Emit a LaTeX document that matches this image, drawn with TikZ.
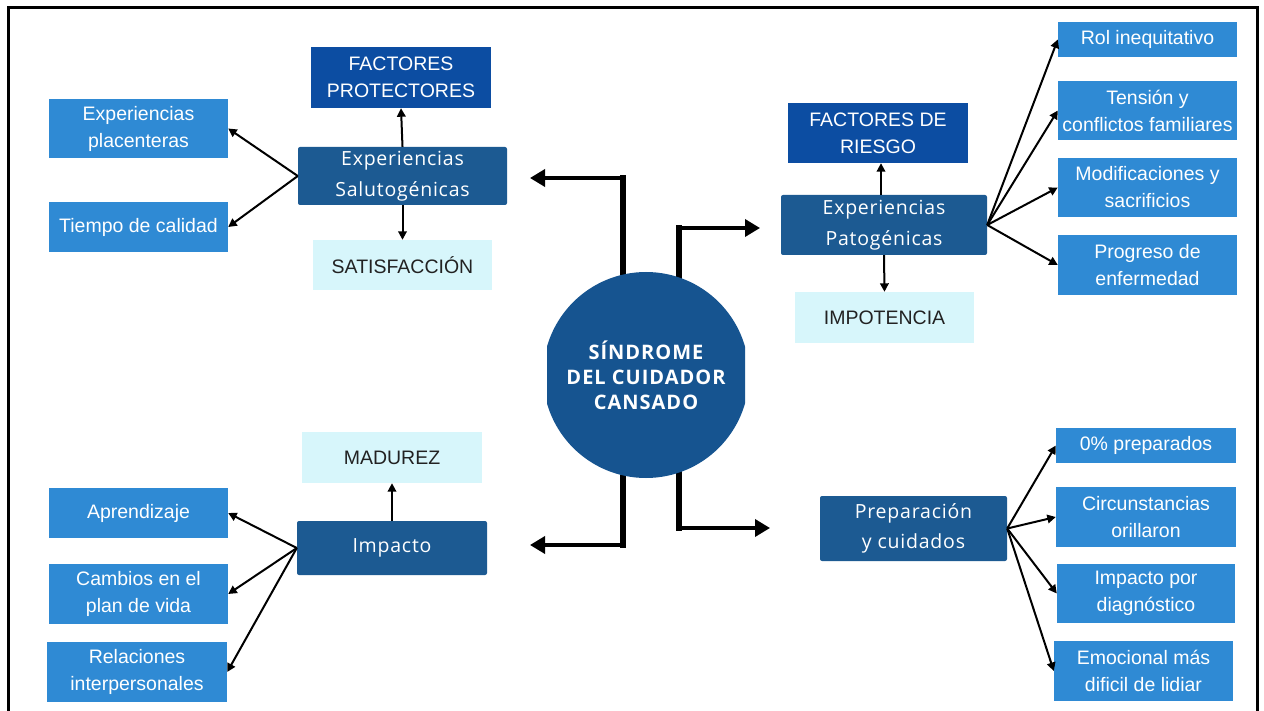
\documentclass[tikz,border=0pt]{standalone}
\usepackage{fontspec}
\setmainfont{Liberation Sans}
\newfontfamily\midfont[LetterSpace=4]{Open Sans}
\newfontfamily\hubfont[LetterSpace=5]{Open Sans}
\usetikzlibrary{arrows.meta,backgrounds}

\definecolor{factblue}{HTML}{0C4DA2}
\definecolor{midblue}{HTML}{1C5A92}
\definecolor{hubblue}{HTML}{165490}
\definecolor{leafblue}{HTML}{2F8AD4}
\definecolor{palecyan}{HTML}{D7F6FB}
\definecolor{darktext}{HTML}{222222}

\begin{document}
\begin{tikzpicture}[x=1pt,y=-1pt,
  box/.style={rectangle, inner sep=0pt, align=center, text=white,
              font=\fontsize{19.5}{27}\selectfont},
  leaf/.style={box, fill=leafblue},
  factor/.style={box, fill=factblue},
  mid/.style={box, fill=midblue, rounded corners=2pt,
              font=\midfont\fontsize{19.5}{30.5}\selectfont},
  result/.style={box, fill=palecyan, text=darktext},
  fan/.style={-{Triangle[length=8.5pt,width=8.5pt]}, line width=2pt},
  hubstem/.style={line width=6pt, line cap=rect},
  hubarrow/.style={-{Triangle[length=15pt,width=17pt]}, line width=3.5pt}]

\useasboundingbox (0,0) rectangle (1264,711);

% central hub
\node[circle, minimum size=206pt, inner sep=0pt, align=center, text=white,
      font=\hubfont\bfseries\fontsize{20}{25}\selectfont] (hub) at (646,375)
      {SÍNDROME\\DEL CUIDADOR\\CANSADO};

% protective side
\node[factor, minimum width=180, minimum height=61] (fp) at (401,77.5) {FACTORES\\PROTECTORES};
\node[mid, minimum width=209, minimum height=58] (salu) at (402.5,176) {Experiencias\\Salutogénicas};
\node[result, minimum width=179, minimum height=50] (sat) at (402.5,265) {SATISFACCIÓN};
\node[leaf, minimum width=179, minimum height=59] (ep) at (138.5,128.5) {Experiencias\\placenteras};
\node[leaf, minimum width=179, minimum height=50] (tc) at (138.5,227) {Tiempo de calidad};

% impact side
\node[result, minimum width=180, minimum height=51] (mad) at (392,457.5) {MADUREZ};
\node[mid, minimum width=190, minimum height=54] (imp) at (392,548) {Impacto};
\node[leaf, minimum width=179, minimum height=50] (apr) at (138.5,513) {Aprendizaje};
\node[leaf, minimum width=179, minimum height=60] (cam) at (138.5,594) {Cambios en el\\plan de vida};
\node[leaf, minimum width=180, minimum height=60] (rel) at (137,672) {Relaciones\\interpersonales};

% risk side
\node[factor, minimum width=180, minimum height=60] (fr) at (878,133) {FACTORES DE\\RIESGO};
\node[mid, minimum width=206, minimum height=60] (pat) at (884,225) {Experiencias\\Patogénicas};
\node[result, minimum width=179, minimum height=51] (ipo) at (884.5,317.5) {IMPOTENCIA};
\node[leaf, minimum width=179, minimum height=35] (rol) at (1147.5,39.5) {Rol inequitativo};
\node[leaf, minimum width=179, minimum height=59] (ten) at (1147.5,110.5) {Tensión y\\conflictos familiares};
\node[leaf, minimum width=179, minimum height=59] (mod) at (1147.5,187.5) {Modificaciones y\\sacrificios};
\node[leaf, minimum width=179, minimum height=60] (pro) at (1147.5,265) {Progreso de\\enfermedad};

% preparation side
\node[mid, minimum width=187, minimum height=65] (prep) at (913.5,528.5) {Preparación\\y cuidados};
\node[leaf, minimum width=180, minimum height=35] (zero) at (1146,445.5) {0\% preparados};
\node[leaf, minimum width=180, minimum height=60] (cir) at (1146,517) {Circunstancias\\orillaron};
\node[leaf, minimum width=178, minimum height=59] (ipd) at (1146,593.5) {Impacto por\\diagnóstico};
\node[leaf, minimum width=179, minimum height=60] (emo) at (1143.5,671) {Emocional más\\dificil de lidiar};

% elbows and tips of the hub connectors
\coordinate (cUL) at (623,178);
\coordinate (tUL) at (530,178);
\coordinate (cUR) at (679,228);
\coordinate (tUR) at (760,228);
\coordinate (cLL) at (623,545);
\coordinate (tLL) at (530,545);
\coordinate (cLR) at (679,528);
\coordinate (tLR) at (770,528);

\begin{scope}[on background layer]
  \fill[white] (0,0) rectangle (1264,711);
  \draw[hubstem] (hub.center -| cUL) -- (cUL);
  \draw[hubstem] (hub.center -| cUR) -- (cUR);
  \draw[hubstem] (hub.center -| cLL) -- (cLL);
  \draw[hubstem] (hub.center -| cLR) -- (cLR);
  \draw[hubarrow] (cUL) -- (tUL);
  \draw[hubarrow] (cUR) -- (tUR);
  \draw[hubarrow] (cLL) -- (tLL);
  \draw[hubarrow] (cLR) -- (tLR);
  \begin{scope}
    \clip (547,250) rectangle (745,500);
    \fill[hubblue] (hub.center) circle (103);
  \end{scope}
\end{scope}

% outer frame
\draw[line width=3pt] (8.5,730) -- (8.5,7.5) -- (1257.5,7.5) -- (1257.5,730);

% branch connectors
\draw[fan] (salu.north) -- (fp.south);
\draw[fan] (salu.south) -- (sat.north);
\draw[fan] (salu.west) -- (ep.east);
\draw[fan] (salu.west) -- (tc.east);

\draw[fan] (imp.north) -- (mad.south);
\draw[fan] (imp.west) -- (apr.east);
\draw[fan] (imp.west) -- (cam.east);
\draw[fan] (imp.west) -- (rel.east);

\draw[fan] ([xshift=-3pt]pat.north) -- ([xshift=3pt]fr.south);
\draw[fan] (pat.south) -- (ipo.north);
\draw[fan] (pat.east) -- (rol.west);
\draw[fan] (pat.east) -- (ten.west);
\draw[fan] (pat.east) -- (mod.west);
\draw[fan] (pat.east) -- (pro.west);

\draw[fan] (prep.east) -- (zero.west);
\draw[fan] (prep.east) -- (cir.west);
\draw[fan] (prep.east) -- (ipd.west);
\draw[fan] (prep.east) -- (emo.west);
\end{tikzpicture}
\end{document}
